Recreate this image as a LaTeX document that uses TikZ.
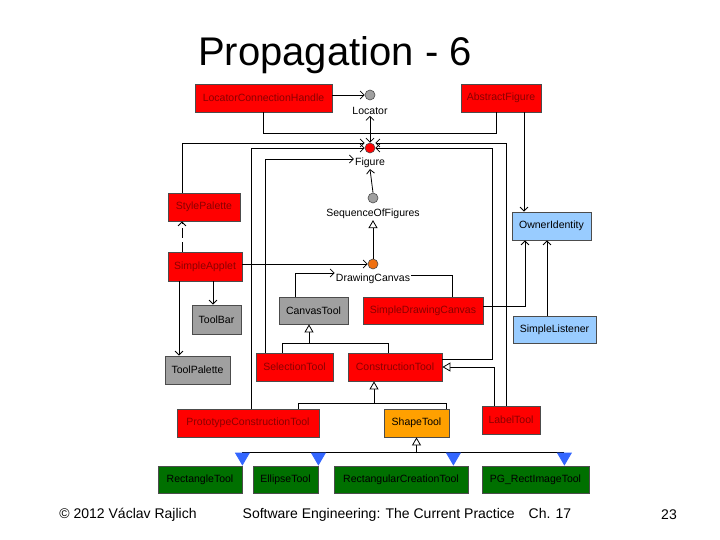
\documentclass[tikz,border=0pt]{standalone}
\usepackage{fontspec}
\setmainfont{Liberation Sans}
\usetikzlibrary{arrows.meta,positioning}
\definecolor{boxred}{HTML}{FF0000}
\definecolor{txtred}{HTML}{8A0000}
\definecolor{boxgray}{HTML}{A0A0A0}
\definecolor{boxblue}{HTML}{99CCFF}
\definecolor{boxgreen}{HTML}{007000}
\definecolor{boxorange}{HTML}{FFA000}
\definecolor{dotorange}{HTML}{F07010}
\definecolor{tipblue}{HTML}{3366FF}
\tikzset{
  cls/.style={draw=black!70, line width=0.8pt, inner sep=0pt, font=\fontsize{10.5}{12}\selectfont},
  redbox/.style={cls, fill=boxred, text=txtred},
  graybox/.style={cls, fill=boxgray},
  bluebox/.style={cls, fill=boxblue},
  greenbox/.style={cls, fill=boxgreen, text=black},
  orangebox/.style={cls, fill=boxorange},
  dot/.style={circle, draw=black!70, line width=0.6pt, minimum size=10pt, inner sep=0pt},
  lbl/.style={font=\fontsize{10.5}{12}\selectfont, inner sep=1pt},
  link/.style={line width=0.8pt},
  open/.style={link, -{Straight Barb[length=4pt,width=8pt]}},
  inh/.style={link, -{Triangle[open,length=8pt,width=9pt,fill=white]}},
  real/.style={link, -{Triangle[length=13pt,width=15pt,color=tipblue]}}
}
\begin{document}
\begin{tikzpicture}[x=1pt,y=-1pt]
    \useasboundingbox (0,0) rectangle (720,540);
    \node[font=\fontsize{40}{44}\selectfont] (title) at (335,55) {Propagation - 6};
    % classes
    \node[redbox, minimum width=137, minimum height=28] (lch) at (263.5,98) {LocatorConnectionHandle};
    \node[redbox, minimum width=80, minimum height=28] (af) at (501,98) {AbstractFigure};
    \node[redbox, minimum width=72, minimum height=28] (sp) at (204,207) {StylePalette};
    \node[bluebox, minimum width=79, minimum height=28] (oi) at (551.5,226) {OwnerIdentity};
    \node[redbox, minimum width=74, minimum height=29] (sa) at (205,266.5) {SimpleApplet};
    \node[graybox, minimum width=49, minimum height=29] (tb) at (216.5,319.5) {ToolBar};
    \node[graybox, minimum width=65, minimum height=28] (tp) at (197.5,370) {ToolPalette};
    \node[graybox, minimum width=69, minimum height=27] (ct) at (313.5,310.5) {CanvasTool};
    \node[redbox, minimum width=120, minimum height=27] (sdc) at (423,310.5) {SimpleDrawingCanvas};
    \node[bluebox, minimum width=83, minimum height=27] (sl) at (554.5,329.5) {SimpleListener};
    \node[redbox, minimum width=77, minimum height=28] (selt) at (294.5,367) {SelectionTool};
    \node[redbox, minimum width=94, minimum height=28] (cnt) at (395,367) {ConstructionTool};
    \node[redbox, minimum width=142, minimum height=28] (pct) at (248,423) {PrototypeConstructionTool};
    \node[orangebox, minimum width=65, minimum height=28] (st) at (416.5,423) {ShapeTool};
    \node[redbox, minimum width=58, minimum height=28] (lt) at (511,420) {LabelTool};
    \node[greenbox, minimum width=84, minimum height=27] (rt) at (200,479.5) {RectangleTool};
    \node[greenbox, minimum width=65, minimum height=27] (et) at (285.5,479.5) {EllipseTool};
    \node[greenbox, minimum width=134, minimum height=27] (rct) at (401,479.5) {RectangularCreationTool};
    \node[greenbox, minimum width=107, minimum height=27] (pg) at (535.5,479.5) {PG\_RectImageTool};
    % interfaces
    \node[dot, fill=boxgray] (loc) at (370,95) {};
    \node[lbl] (locl) at (370,111) {Locator};
    \node[dot, fill=boxred] (fig) at (370,148) {};
    \node[lbl] (figl) at (370,163) {Figure};
    \node[dot, fill=boxgray] (sof) at (373,198) {};
    \node[lbl] (sofl) at (373,214) {SequenceOfFigures};
    \node[dot, fill=dotorange] (dc) at (373,264) {};
    \node[lbl] (dcl) at (373,279) {DrawingCanvas};
    % connectors
    \draw[open] (lch.east |- loc) -- (loc.west);
    \draw[link] (lch.south) -- ++(0,21) -| ([xshift=-5]af.south);
    \draw[open] ([yshift=10]fig.north) -- (fig.north);
    \draw[open] ([yshift=10]fig.north) -- (locl.south);
    \draw[open] ([xshift=-22]sp.north) |- ([yshift=5]fig.west);
    \draw[open] ([xshift=-5]lt.north) |- ([yshift=5]fig.east);
    \draw[open] ([xshift=3]pct.north) |- (fig.west);
    \draw[open] ([yshift=8]cnt.east) -| ([xshift=117]fig.east) -- (fig.east);
    \draw[open] ([xshift=-29.5]selt.north) |- ([yshift=4]figl.west);
    \draw[open] (sof.north) -- (figl.south);
    \draw[inh] (dc.north) -- (sofl.south);
    \draw[open] (sa.east |- dc) -- (dc.west);
    \draw[open] ([xshift=-18.5]ct.north) |- ([yshift=6]dcl.west);
    \draw[link] ([xshift=29]sdc.north) |- ([yshift=4]dcl.east);
    \draw[open] ([yshift=4.5]sdc.east) -| ([xshift=-26.5]oi.south);
    \draw[open] ([xshift=-7.5]sl.north) -- ([xshift=-7.5]sl.north |- oi.south);
    \draw[open] ([xshift=23]af.south) -- ([xshift=23]af.south |- oi.north);
    \draw[open, dash pattern=on 10pt off 4pt] ([xshift=-23]sa.north) -- ([xshift=-23]sa.north |- sp.south);
    \draw[open] ([xshift=-26]sa.south) -- ([xshift=-26]sa.south |- tp.north);
    \draw[open] ([xshift=8]sa.south) -- ([xshift=8]sa.south |- tb.north);
    \coordinate (ctb) at ([xshift=-4.5,yshift=-19]ct.south);
    \draw[link] ([xshift=-12.5]selt.north) |- (ctb) -| ([xshift=-7]cnt.north);
    \draw[inh] (ctb) -- ([xshift=-4.5]ct.south);
    \draw[inh] ([xshift=-17]lt.north) |- (cnt.east);
    \coordinate (cnb) at ([xshift=-21,yshift=-22]cnt.south);
    \draw[link] ([xshift=50]pct.north) |- (cnb) -| ([xshift=29.5]st.north);
    \draw[inh] (cnb) -- ([xshift=-21]cnt.south);
    \coordinate (stb) at ([yshift=-16]st.south);
    \draw[link] ([yshift=13]rt.north east) -- ([xshift=-25,yshift=13]pg.north east);
    \draw[inh] (stb) -- (st.south);
    \draw[real] ([yshift=13]rt.north east) -- (rt.north east);
    \draw[real] ([yshift=13]et.north east) -- (et.north east);
    \draw[real] ([xshift=-15,yshift=13]rct.north east) -- ([xshift=-15]rct.north east);
    \draw[real] ([xshift=-25,yshift=13]pg.north east) -- ([xshift=-25]pg.north east);
    % footer
    \node[font=\fontsize{14}{16}\selectfont] (copy) at (128,515) {© 2012 Václav Rajlich};
    \node[font=\fontsize{14}{16}\selectfont] (book) at (407,515) {Software Engineering: The Current Practice\quad Ch. 17};
    \node[font=\fontsize{14}{16}\selectfont] (page) at (669,515) {23};
\end{tikzpicture}
\end{document}
